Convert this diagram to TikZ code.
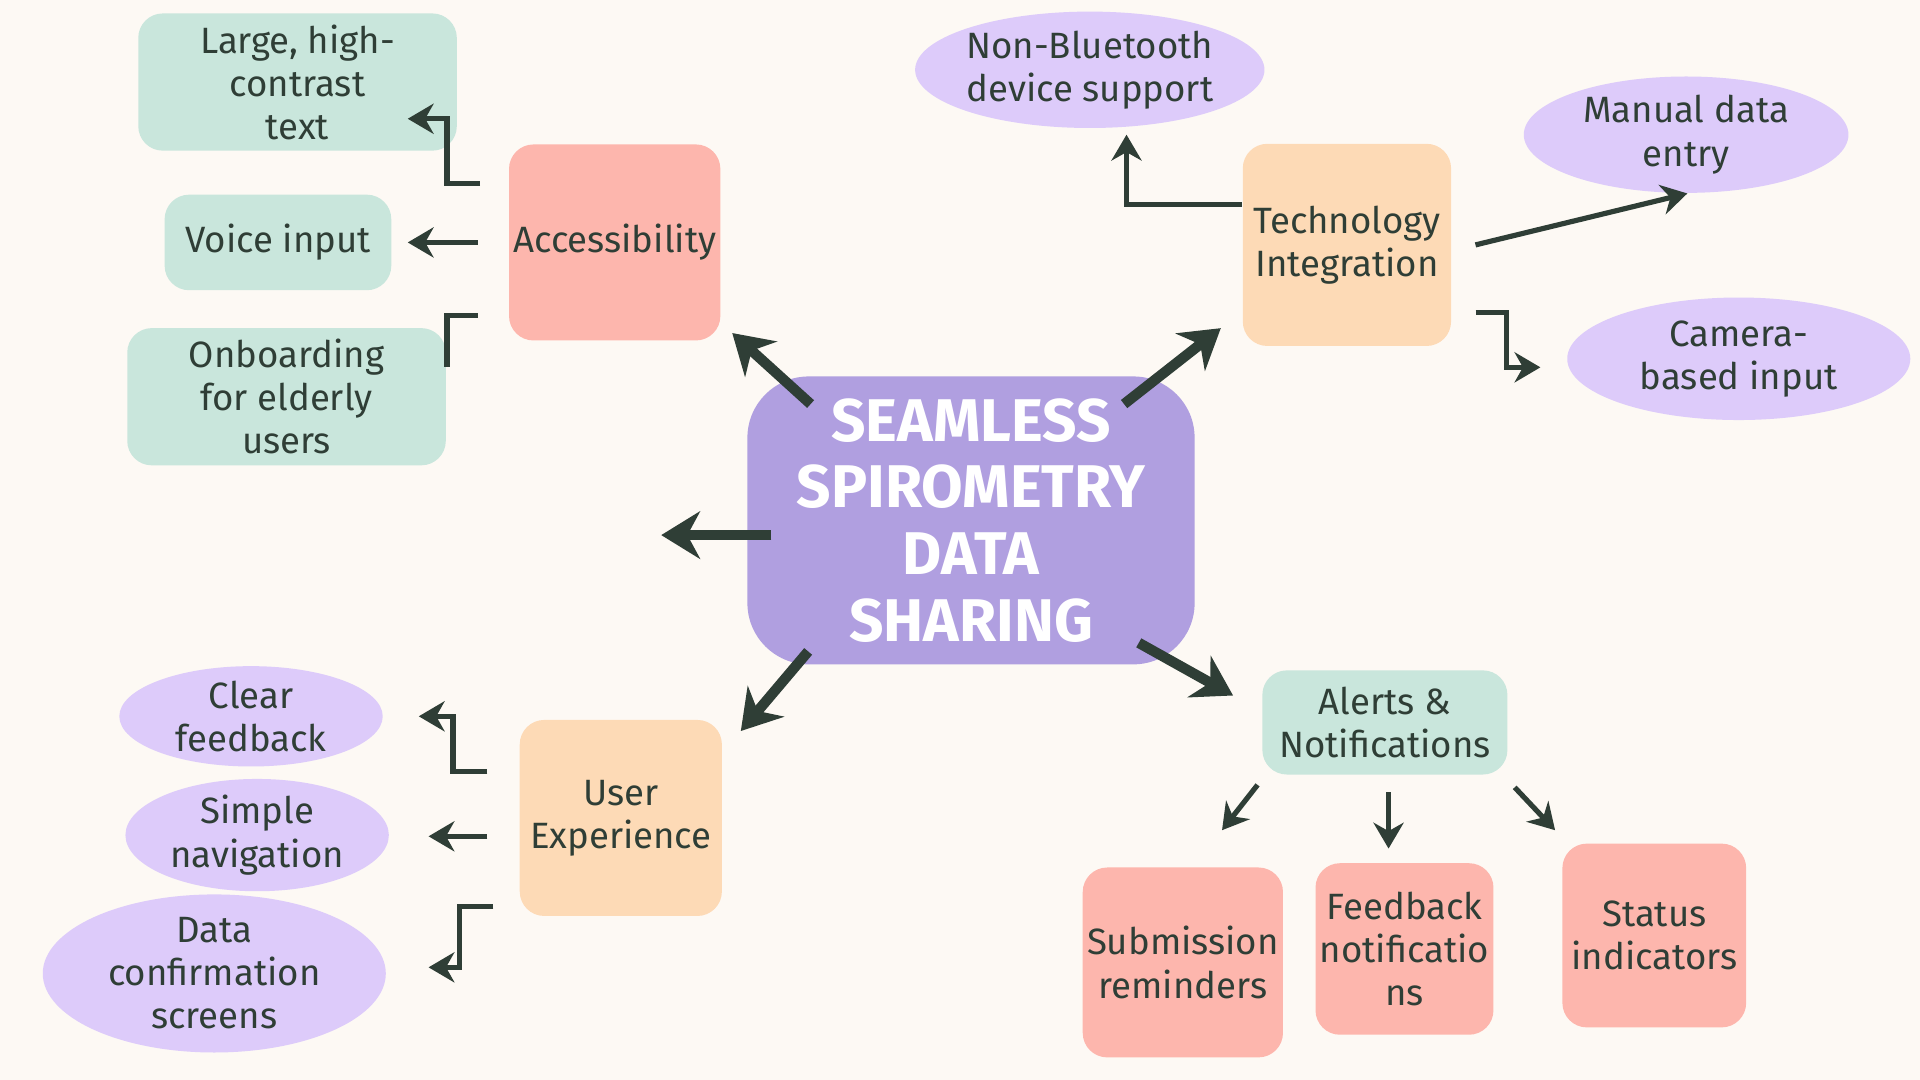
\documentclass[tikz,border=0pt]{standalone}
\usepackage{fontspec}
\setmainfont{Fira Sans}
\usetikzlibrary{arrows.meta,shapes.geometric}
\definecolor{bg}{HTML}{FDF9F4}
\definecolor{hub}{HTML}{B09FE0}
\definecolor{mint}{HTML}{C9E6DC}
\definecolor{salmon}{HTML}{FDB6AD}
\definecolor{peach}{HTML}{FDDAB6}
\definecolor{lilac}{HTML}{DDCBFA}
\definecolor{ink}{HTML}{2F3E36}
\begin{document}
\begin{tikzpicture}[x=0.01cm, y=-0.01cm,
    box/.style={rectangle, rounded corners=2mm, align=center, font=\fontsize{8.5}{10}\selectfont, text=ink, inner sep=1pt},
    topic/.style={box, minimum width=1.65cm, minimum height=1.6cm},
    leaf/.style={box, fill=mint},
    bubble/.style={ellipse, align=center, fill=lilac, font=\fontsize{8.5}{10}\selectfont, text=ink, inner sep=0pt},
    link/.style={draw=ink, line width=1.2pt, -{Stealth[length=6pt,width=7pt]}},
    bigarrow/.style={draw=ink, line width=2.4pt, -{Stealth[length=9pt,width=11pt]}}
]
\fill[bg] (0,0) rectangle (1568,882);
\useasboundingbox (0,0) rectangle (1568,882);
% hub
\node (hub) [box, fill=hub, text=white, minimum width=3.65cm, minimum height=2.35cm,
    rounded corners=5mm, font=\bfseries\fontsize{14}{15.5}\selectfont] at (793,425)
    {SEAMLESS\\SPIROMETRY\\DATA\\SHARING};
% accessibility branch
\node (acc) [topic, fill=salmon, minimum width=1.7cm] at (502,198) {Accessibility};
\node (large) [leaf, minimum width=2.6cm, minimum height=1.12cm] at (243,67) {Large, high-\\contrast\\text};
\node (voice) [leaf, minimum width=1.85cm, minimum height=0.78cm] at (227,198) {Voice input};
\node (onb) [leaf, minimum width=2.6cm, minimum height=1.12cm] at (234,324) {Onboarding\\for elderly\\users};
% technology branch
\node (tech) [topic, fill=peach, minimum width=1.7cm, minimum height=1.65cm] at (1100,200) {Technology\\Integration};
\node (nonbt) [bubble, minimum width=2.65cm, minimum height=0.95cm] at (890,57) {Non-Bluetooth\\device support};
\node (manual) [bubble, minimum width=2.65cm, minimum height=0.95cm] at (1377,110) {Manual data\\entry};
\node (camera) [bubble, minimum width=2.8cm, minimum height=1.0cm] at (1420,293) {Camera-\\based input};
% user experience branch
\node (ux) [topic, fill=peach] at (507,668) {User\\Experience};
\node (clear) [bubble, minimum width=2.15cm, minimum height=0.78cm] at (205,585) {Clear\\feedback};
\node (simple) [bubble, minimum width=2.15cm, minimum height=0.78cm] at (210,682) {Simple\\navigation};
\node (confirm) [bubble, minimum width=2.8cm, minimum height=1.0cm] at (175,795) {Data\\confirmation\\screens};
% alerts branch
\node (alerts) [leaf, minimum width=2.0cm, minimum height=0.85cm] at (1131,590) {Alerts \&\\Notifications};
\node (remind) [topic, fill=salmon, minimum width=1.6cm, minimum height=1.55cm] at (966,786) {Submission\\reminders};
\node (fbnote) [topic, fill=salmon, minimum width=1.35cm, minimum height=1.4cm] at (1147,775) {Feedback\\notificatio\\ns};
\node (status) [topic, fill=salmon, minimum width=1.5cm, minimum height=1.5cm] at (1351,764) {Status\\indicators};
% free ends
\coordinate (west) at (540,437);
\coordinate (accTip) at (598,272);
\coordinate (techTip) at (997,268);
\coordinate (uxTip) at (605,597);
\coordinate (alertTip) at (1007,568);
% hub arrows
\draw[bigarrow] (662,330) -- (accTip);
\draw[bigarrow] (918,330) -- (techTip);
\draw[bigarrow] (630,437) -- (west);
\draw[bigarrow] (660,532) -- (uxTip);
\draw[bigarrow] (930,525) -- (alertTip);
% accessibility connectors
\draw[link] (392,150) -| (365,97) -- (333,97);
\draw[link] (390,198) -- (333,198);
\draw[ink, line width=1.2pt] (390,258) -| (365,300);
% technology connectors
\draw[link] (tech.west |- 0,167) -| (920,110);
\draw[link] (1205,200) -- (1378,158);
\draw[link] (1205,255) -| (1230,300) -- (1258,300);
% user experience connectors
\draw[link] (398,630) -| (370,585) -- (342,585);
\draw[link] (398,683) -- (350,683);
\draw[link] (403,740) -| (375,790) -- (350,790);
% alerts connectors
\draw[link] (1027,641) -- (998,678);
\draw[link] (1134,647) -- (1134,693);
\draw[link] (1237,643) -- (1270,678);
\end{tikzpicture}
\end{document}
